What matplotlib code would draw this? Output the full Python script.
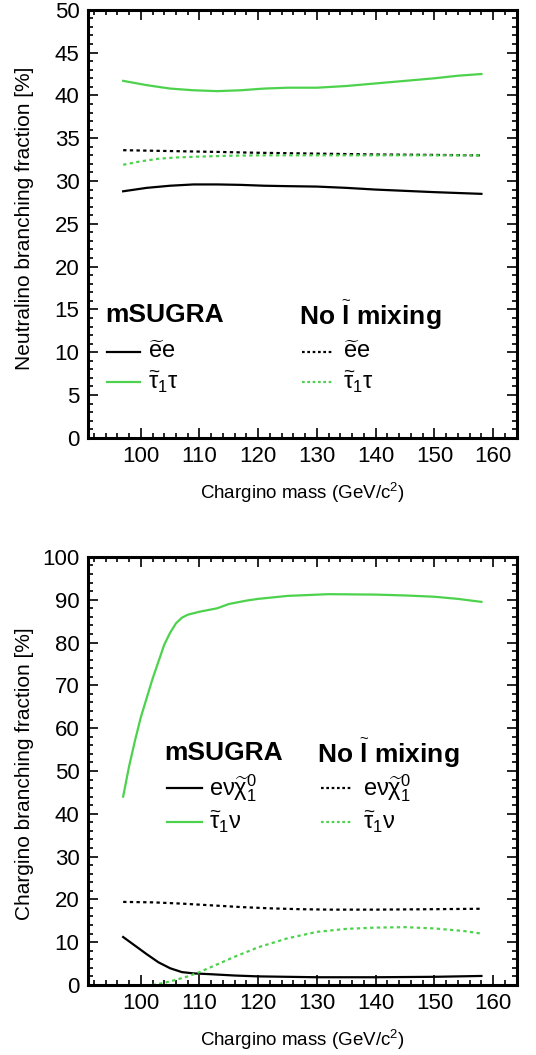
import matplotlib
matplotlib.use("Agg")
import matplotlib.pyplot as plt
from matplotlib.ticker import MultipleLocator

plt.rcParams['font.family'] = ['Liberation Sans', 'DejaVu Sans']
plt.rcParams['mathtext.fontset'] = 'custom'
plt.rcParams['mathtext.rm'] = 'Liberation Sans'
plt.rcParams['mathtext.it'] = 'Liberation Sans'
plt.rcParams['mathtext.bf'] = 'Liberation Sans:bold'

GREEN = '#4dd24d'

# ---- Neutralino panel data ----
neu_green_solid_x = [97, 101, 105, 109, 113, 117, 121, 125, 130, 135, 140, 145, 150, 154, 158]
neu_green_solid_y = [41.7, 41.2, 40.8, 40.6, 40.5, 40.6, 40.8, 40.9, 40.9, 41.1, 41.4, 41.7, 42.0, 42.3, 42.5]
neu_black_solid_x = [97, 101, 105, 109, 113, 117, 121, 125, 130, 135, 140, 145, 150, 154, 158]
neu_black_solid_y = [28.8, 29.2, 29.45, 29.6, 29.6, 29.55, 29.45, 29.4, 29.35, 29.2, 29.0, 28.85, 28.7, 28.6, 28.5]
neu_black_dot_x = [97, 105, 113, 120, 130, 140, 150, 158]
neu_black_dot_y = [33.6, 33.5, 33.4, 33.3, 33.2, 33.1, 33.05, 33.0]
neu_green_dot_x = [97, 100, 103, 106, 110, 115, 120, 130, 140, 150, 158]
neu_green_dot_y = [31.9, 32.3, 32.6, 32.75, 32.85, 32.95, 33.0, 33.0, 33.0, 33.0, 33.0]

# ---- Chargino panel data ----
cha_green_solid_x = [97, 98, 99, 100, 101, 102, 103, 104, 105, 106, 107, 108, 110, 113, 115, 118, 120, 125, 132, 140, 145, 150, 154, 158]
cha_green_solid_y = [44, 51, 57, 62.5, 67, 71.5, 75.5, 79.5, 82.3, 84.5, 85.8, 86.5, 87.2, 88.0, 89.0, 89.8, 90.2, 90.9, 91.3, 91.2, 91.0, 90.7, 90.2, 89.5]
cha_black_solid_x = [97, 99, 101, 103, 105, 107, 109, 112, 116, 120, 125, 130, 140, 150, 158]
cha_black_solid_y = [11.2, 9.2, 7.2, 5.3, 3.9, 3.0, 2.7, 2.5, 2.2, 2.0, 1.9, 1.8, 1.8, 1.9, 2.1]
cha_black_dot_x = [97, 102, 107, 112, 117, 122, 127, 132, 140, 150, 158]
cha_black_dot_y = [19.4, 19.3, 19.0, 18.6, 18.2, 17.9, 17.7, 17.6, 17.6, 17.7, 17.8]
cha_green_dot_x = [102, 104, 106, 108, 110, 113, 116, 120, 125, 130, 135, 140, 145, 150, 155, 158]
cha_green_dot_y = [0.0, 0.5, 1.2, 2.0, 3.0, 4.8, 6.6, 8.8, 10.9, 12.4, 13.1, 13.4, 13.5, 13.2, 12.6, 12.0]

x_label = 'Chargino mass (GeV/c$^2$)'
neu_ylabel = 'Neutralino branching fraction [%]'
cha_ylabel = 'Chargino branching fraction [%]'

fig = plt.figure(figsize=(5.36, 10.55), dpi=100)
ax1 = fig.add_axes([0.164, 0.585, 0.801, 0.4057])
ax2 = fig.add_axes([0.164, 0.0664, 0.801, 0.4057])

LW = 1.6
for ax in (ax1, ax2):
    ax.set_xlim(91, 164.1)
    ax.xaxis.set_major_locator(MultipleLocator(10))
    ax.xaxis.set_minor_locator(MultipleLocator(2))
    ax.tick_params(which='both', direction='in', top=True, right=True, width=1.2)
    ax.tick_params(which='major', length=7, labelsize=16, pad=6)
    ax.tick_params(which='minor', length=3.5)
    for s in ax.spines.values():
        s.set_linewidth(2.2)
    ax.set_xlabel(x_label, fontsize=13.5, va='center')
    ax.xaxis.set_label_coords(0.499, -0.1285)

ax1.set_ylim(0, 50)
ax1.yaxis.set_major_locator(MultipleLocator(5))
ax1.yaxis.set_minor_locator(MultipleLocator(1))
ax1.set_ylabel(neu_ylabel, fontsize=15, va='center')
ax1.yaxis.set_label_coords(-0.147, 0.514)

ax2.set_ylim(0, 100)
ax2.yaxis.set_major_locator(MultipleLocator(10))
ax2.yaxis.set_minor_locator(MultipleLocator(2))
ax2.set_ylabel(cha_ylabel, fontsize=15, va='center')
ax2.yaxis.set_label_coords(-0.147, 0.493)

ax1.plot(neu_green_solid_x, neu_green_solid_y, color=GREEN, lw=LW)
ax1.plot(neu_black_solid_x, neu_black_solid_y, color='black', lw=LW)
ax1.plot(neu_black_dot_x, neu_black_dot_y, color='black', lw=LW, ls=(0, (1.5, 1.5)))
ax1.plot(neu_green_dot_x, neu_green_dot_y, color=GREEN, lw=LW, ls=(0, (1.5, 1.5)))

ax2.plot(cha_green_solid_x, cha_green_solid_y, color=GREEN, lw=LW)
ax2.plot(cha_black_solid_x, cha_black_solid_y, color='black', lw=LW)
ax2.plot(cha_black_dot_x, cha_black_dot_y, color='black', lw=LW, ls=(0, (1.5, 1.5)))
ax2.plot(cha_green_dot_x, cha_green_dot_y, color=GREEN, lw=LW, ls=(0, (1.5, 1.5)))

def legend_block(ax, x_head1, x_head2, y_head, rows, l1, l2, t1, t2, labels):
    ax.text(x_head1, y_head, 'mSUGRA', transform=ax.transAxes, fontsize=19,
            fontweight='bold', va='center', ha='left')
    ax.text(x_head2, y_head, r'No $\widetilde{\mathbf{l}}$ mixing', transform=ax.transAxes,
            fontsize=19, fontweight='bold', va='center', ha='left')
    cols = ['black', GREEN]
    for (yr, lab, c) in zip(rows, labels, cols):
        ax.plot(l1, [yr, yr], transform=ax.transAxes, color=c, lw=LW)
        ax.plot(l2, [yr, yr], transform=ax.transAxes, color=c, lw=LW, ls=(0, (1.2, 1.2)))
        ax.text(t1, yr, lab, transform=ax.transAxes, fontsize=17, va='center', ha='left')
        ax.text(t2, yr, lab, transform=ax.transAxes, fontsize=17, va='center', ha='left')

legend_block(ax1, 0.040, 0.492, 0.287, [0.201, 0.131],
             [0.044, 0.121], [0.499, 0.571], 0.14, 0.594,
             [r'$\widetilde{\mathrm{e}}\mathrm{e}$', r'$\widetilde{\tau}_1\tau$'])
legend_block(ax2, 0.177, 0.534, 0.542, [0.46, 0.381],
             [0.184, 0.266], [0.543, 0.615], 0.282, 0.641,
             [r'$\mathrm{e}\nu\widetilde{\chi}_1^0$', r'$\widetilde{\tau}_1\nu$'])

fig.savefig('out.png', dpi=100)
